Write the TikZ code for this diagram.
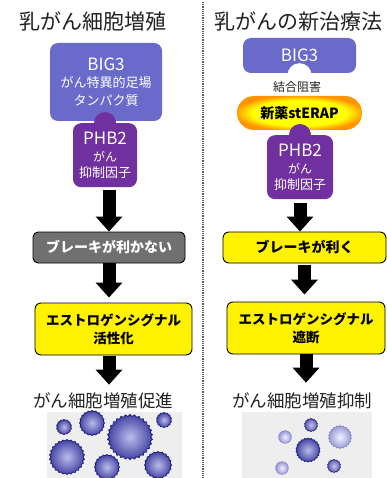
\documentclass[tikz,border=0pt]{standalone}
\usepackage{fontspec}
\setmainfont{Noto Sans CJK JP}
\usetikzlibrary{arrows.meta,shapes.geometric}

\definecolor{bigblue}{HTML}{6A6ACB}
\definecolor{phbpurple}{HTML}{7030A0}
\definecolor{brakegray}{HTML}{707070}
\definecolor{inkdark}{HTML}{222222}
\definecolor{cellbg}{HTML}{EEEEEF}
\definecolor{drugorange}{HTML}{FF9400}
\definecolor{cellcore}{HTML}{BCBCEC}
\definecolor{celledge}{HTML}{4444A4}
\definecolor{cellrim}{HTML}{1E1E78}
\definecolor{palecore}{HTML}{F2F2FF}
\definecolor{paleedge}{HTML}{9898D6}
\definecolor{palerim}{HTML}{8484C8}

% glow of the drug capsule: wide yellow plateau, orange rim
\pgfdeclareradialshading{drugglow}{\pgfpoint{0bp}{0bp}}{color(0bp)=(yellow); color(19bp)=(yellow); color(26bp)=(drugorange); color(50bp)=(drugorange)}

\begin{document}
\begin{tikzpicture}[
  x=1pt, y=-1pt,
  title/.style={text=inkdark, font=\fontsize{21}{24}\selectfont, inner sep=0pt},
  caption/.style={text=inkdark, font=\fontsize{17.5}{20}\selectfont, inner sep=0pt},
  protein/.style={fill=#1, text=white, rounded corners=8pt, inner sep=0pt, align=center},
  graybox/.style={fill=brakegray, draw=black, line width=0.9pt, rounded corners=5pt,
    text=white, inner sep=0pt, align=center, font=\bfseries\fontsize{14}{17}\selectfont},
  yellowbox/.style={fill=yellow, draw=black, line width=0.9pt, rounded corners=6pt,
    text=black, inner sep=0pt, align=center, font=\bfseries\fontsize{13.5}{18}\selectfont},
  flow/.style={draw=black, line width=13pt, -{Triangle[width=26pt,length=15pt]}},
  livecell/.style={star, star points=#1, star point ratio=1.09, inner sep=0pt,
    draw=cellrim, line width=0.8pt, inner color=cellcore, outer color=celledge},
  palecell/.style={star, star points=#1, star point ratio=1.09, inner sep=0pt,
    draw=palerim, line width=0.6pt, inner color=palecore, outer color=paleedge},
  divider/.style={draw=black!65, line width=1.2pt, densely dotted}
]
\useasboundingbox (0,0) rectangle (387,478);

% ---------- separator ----------
\draw[divider] (203,2) -- (203,478);

% ---------- left column: proliferation ----------
\node[title] (titleL) at (92.5,22) {乳がん細胞増殖};

\node[protein=bigblue, minimum width=112pt, minimum height=78pt,
  font=\fontsize{13}{17.5}\selectfont] (bigL) at (106,82)
  {{\fontsize{17}{20}\selectfont BIG3}\\がん特異的足場\\タンパク質};

\coordinate (tabL) at (105,123);
\fill[phbpurple] (tabL) circle (11pt);
\node[protein=phbpurple, anchor=north, minimum width=64pt, minimum height=64pt,
  font=\fontsize{13}{16}\selectfont] (phbL) at (tabL)
  {{\fontsize{17}{20}\selectfont PHB2}\\[1pt]{\fontsize{12}{14}\selectfont がん}\\抑制因子};

\node[graybox, minimum width=152pt, minimum height=31pt] (brakeL) at (109,247.5)
  {ブレーキが利かない};

\node[yellowbox, minimum width=157pt, minimum height=52pt] (sigL) at (113.5,329)
  {エストロゲンシグナル\\活性化};

\node[caption] (endL) at (103,401) {がん細胞増殖促進};

\draw[flow, shorten <=3pt] (phbL.south -| brakeL.north) -- (brakeL.north);
\draw[flow, shorten >=5pt] (brakeL.south) -- (brakeL.south |- sigL.north);
\draw[flow, shorten <=1pt, shorten >=8pt] (sigL.south -| brakeL.south) -- (brakeL.south |- endL.north);

% growing cancer cells
\fill[cellbg] (47,412) rectangle (182,478);
\node[livecell=14, minimum size=15pt] (cA) at (64,427) {};
\node[livecell=20, minimum size=25pt] (cB) at (92,423) {};
\node[livecell=30, minimum size=45pt] (cC) at (130,437) {};
\node[livecell=14, minimum size=15pt] (cD) at (164,420) {};
\node[livecell=26, minimum size=35pt] (cE) at (67,457) {};
\node[livecell=20, minimum size=25pt] (cF) at (107,467) {};
\node[livecell=20, minimum size=27pt] (cG) at (158,465) {};

% ---------- right column: new therapy ----------
\node[title] (titleR) at (298,22) {乳がんの新治療法};

\node[protein=bigblue, minimum width=113pt, minimum height=35pt,
  font=\fontsize{17}{20}\selectfont] (bigR) at (299.5,55.5) {BIG3};
\fill[white] (bigR.south) ++(0,2) circle (12pt);

\node[inner sep=0pt, text=inkdark, font=\fontsize{12}{14}\selectfont] (blockR) at (297,87) {結合阻害};

\node[shading=drugglow, rounded corners=17pt, minimum width=125pt, minimum height=34pt,
  inner sep=0pt, font=\bfseries\fontsize{14}{16}\selectfont] (drugR) at (299.5,113) {新薬stERAP};

\coordinate (tabR) at (300,135);
\fill[phbpurple] (tabR) circle (11pt);
\node[protein=phbpurple, anchor=north, minimum width=66pt, minimum height=64pt,
  font=\fontsize{13}{16}\selectfont] (phbR) at (tabR)
  {{\fontsize{17}{20}\selectfont PHB2}\\[1pt]{\fontsize{12}{14}\selectfont がん}\\抑制因子};

\node[yellowbox, minimum width=163pt, minimum height=31pt,
  font=\bfseries\fontsize{14}{17}\selectfont] (brakeR) at (304.5,247.5) {ブレーキが利く};

\node[yellowbox, minimum width=158pt, minimum height=52pt] (sigR) at (306,328)
  {エストロゲンシグナル\\遮断};

\node[caption] (endR) at (302,401) {がん細胞増殖抑制};

\draw[flow, shorten <=4pt] (phbR.south) -- (phbR.south |- brakeR.north);
\draw[flow, shorten <=2pt, shorten >=7pt] (brakeR.south) -- (brakeR.south |- sigR.north);
\draw[flow, shorten >=10pt] (sigR.south) -- (sigR.south |- endR.north);

% suppressed cancer cells
\fill[cellbg] (242,412) rectangle (372,478);
\node[palecell=14, minimum size=13pt] (dA) at (285,437) {};
\node[livecell=14, minimum size=13pt, opacity=0.85] (dB) at (311,425) {};
\node[palecell=22, minimum size=23pt] (dC) at (340,437) {};
\node[livecell=22, minimum size=24pt] (dD) at (308,450) {};
\node[palecell=14, minimum size=13pt] (dE) at (282,468) {};
\node[livecell=14, minimum size=13pt, opacity=0.85] (dF) at (334,466) {};
\end{tikzpicture}
\end{document}
